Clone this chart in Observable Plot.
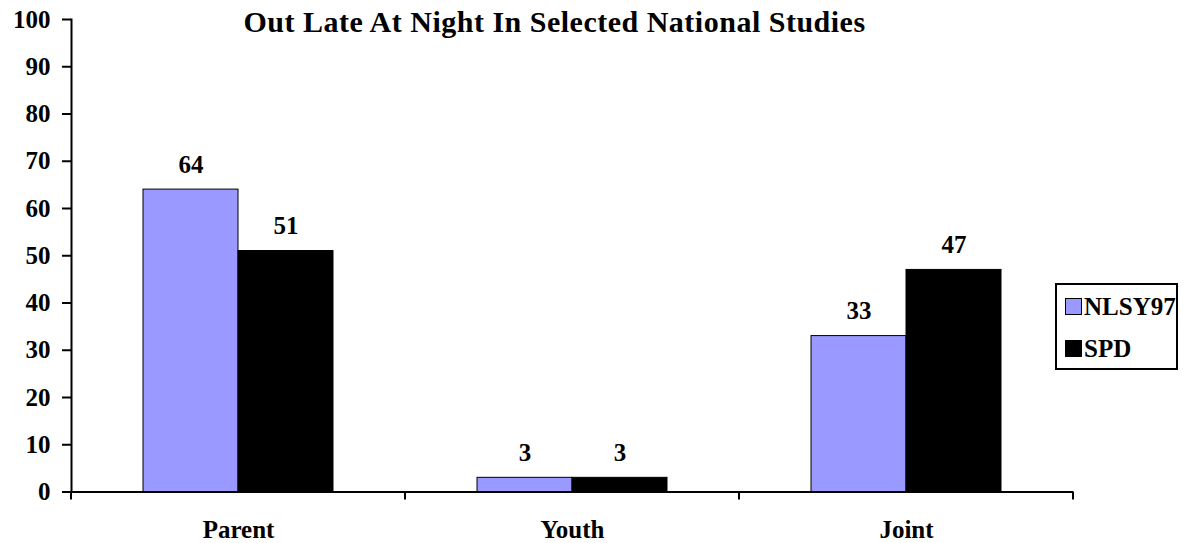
<!DOCTYPE html>
<html>
<head>
<meta charset="utf-8">
<script src="https://cdn.jsdelivr.net/npm/d3@7"></script>
<script src="https://cdn.jsdelivr.net/npm/@observablehq/plot@0.6"></script>
<style>
  body { margin: 0; background: #fff; }
  #chart {
    position: relative; width: 1183px; height: 543px;
    font-family: "Liberation Serif", "Times New Roman", serif; font-weight: bold; color: #000;
  }
  #chart svg { position: absolute; left: 0; top: 0; }
  #chart svg text {
    font-family: "Liberation Serif", "Times New Roman", serif;
    font-size: 25px; font-weight: bold; fill: #000;
  }
  #chart g[aria-label="y-axis tick"] { stroke-width: 2px; }
  #chart [aria-label="frame"] { stroke-width: 2px; }
  .title {
    position: absolute; left: 0; top: 7px; width: 1109px; text-align: center;
    font-size: 30px; line-height: 30px; letter-spacing: 0.5px; white-space: nowrap;
  }
  .legend {
    position: absolute; left: 1055px; top: 283px; width: 111px; height: 82px;
    border: 2px solid #000; background: #fff; padding: 1px 0 0 8px; box-sizing: content-box;
    font-size: 25px; line-height: 42px; white-space: nowrap;
  }
  .legend .sw {
    display: inline-block; width: 15px; height: 15px; border: 1px solid #000;
    margin-right: 2px; vertical-align: baseline;
  }
</style>
</head>
<body>
<div id="chart"></div>
<script>
// Out late at night: who decides, by study (percent)
const title = "Out Late At Night In Selected National Studies";
const categories = ["Parent", "Youth", "Joint"];
const series = ["NLSY97", "SPD"];
const nlsy97 = [64, 3, 33];
const spd = [51, 3, 47];
const yTicks = [0, 10, 20, 30, 40, 50, 60, 70, 80, 90, 100];
const seriesColors = ["#9999FF", "#000000"];

const rows = categories.flatMap((cat, i) => [
  {cat, series: series[0], value: nlsy97[i]},
  {cat, series: series[1], value: spd[i]}
]);

const plot = Plot.plot({
  width: 1183,
  height: 543,
  marginLeft: 71,
  marginRight: 110,
  marginTop: 19,
  marginBottom: 51.5,
  style: {
    fontSize: "25px",
    fontWeight: "bold",
    color: "#000",
    background: "transparent",
    overflow: "visible"
  },
  fx: {domain: categories, padding: 0, label: null, tickSize: 0, tickPadding: 28},
  x: {domain: series, paddingInner: 0, paddingOuter: 0.75, axis: null},
  y: {domain: [0, 100], ticks: yTicks, tickSize: 9, tickPadding: 12, line: true, label: null},
  color: {domain: series, range: seriesColors},
  marks: [
    Plot.barY(rows, {fx: "cat", x: "series", y: "value", fill: "series", stroke: "#000", strokeWidth: 1}),
    Plot.text(rows, {fx: "cat", x: "series", y: "value", text: d => String(d.value), dy: -25, fill: "#000"}),
    Plot.ruleY([0], {stroke: "#000", strokeWidth: 2})
  ]
});

// category boundary ticks below the baseline
const fxScale = plot.scale("fx");
const yScale = plot.scale("y");
const y0 = yScale.apply(0);
const edges = categories.map(c => fxScale.apply(c))
  .concat([fxScale.apply(categories[categories.length - 1]) + fxScale.bandwidth]);
d3.select(plot).append("g")
  .attr("stroke", "#000").attr("stroke-width", 2)
  .selectAll("line").data(edges).join("line")
  .attr("x1", d => d).attr("x2", d => d)
  .attr("y1", y0).attr("y2", y0 + 8);

const chart = document.getElementById("chart");
chart.appendChild(plot);

const t = document.createElement("div");
t.className = "title";
t.textContent = title;
chart.appendChild(t);

const legend = document.createElement("div");
legend.className = "legend";
series.forEach((s, i) => {
  const row = document.createElement("div");
  const sw = document.createElement("span");
  sw.className = "sw";
  sw.style.background = seriesColors[i];
  row.appendChild(sw);
  row.appendChild(document.createTextNode(s));
  legend.appendChild(row);
});
chart.appendChild(legend);
</script>
</body>
</html>
